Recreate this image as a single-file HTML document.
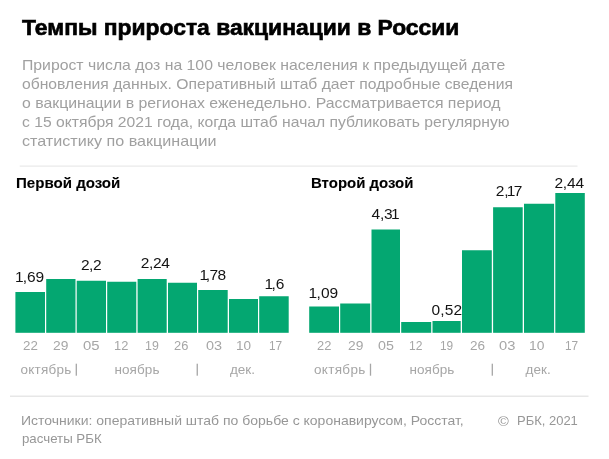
<!DOCTYPE html>
<html><head><meta charset="utf-8"><title>Темпы прироста вакцинации в России</title><style>
html,body{margin:0;padding:0;background:#fff;overflow:hidden;}
body{width:609px;height:459px;position:relative;overflow:hidden;font-family:"Liberation Sans",sans-serif;}
.x{position:absolute;white-space:nowrap;line-height:1;transform-origin:0 0;}
</style></head><body>
<svg width="609" height="459" viewBox="0 0 609 459" style="position:absolute;left:0;top:0">
<rect x="19.7" y="165.5" width="557.8" height="1.2" fill="#e9e9e9"/>
<rect x="10" y="395.6" width="578.5" height="1.2" fill="#e2e2e2"/>
<g fill="#04a771">
<rect x="15.40" y="292.00" width="29.60" height="40.80"/>
<rect x="46.20" y="279.00" width="29.30" height="53.80"/>
<rect x="76.70" y="280.75" width="29.30" height="52.05"/>
<rect x="107.20" y="281.75" width="29.10" height="51.05"/>
<rect x="137.60" y="279.00" width="29.10" height="53.80"/>
<rect x="168.00" y="282.75" width="29.00" height="50.05"/>
<rect x="198.20" y="290.00" width="29.50" height="42.80"/>
<rect x="229.00" y="299.00" width="29.00" height="33.80"/>
<rect x="259.20" y="296.25" width="29.50" height="36.55"/>
<rect x="309.20" y="306.50" width="29.80" height="26.30"/>
<rect x="340.20" y="303.50" width="30.00" height="29.30"/>
<rect x="371.50" y="229.50" width="28.50" height="103.30"/>
<rect x="401.20" y="322.00" width="30.00" height="10.80"/>
<rect x="432.50" y="321.00" width="28.20" height="11.80"/>
<rect x="462.00" y="250.25" width="29.80" height="82.55"/>
<rect x="493.10" y="207.25" width="29.60" height="125.55"/>
<rect x="524.00" y="203.75" width="30.10" height="129.05"/>
<rect x="555.30" y="193.00" width="29.50" height="139.80"/>
</g><g fill="#a6a6a6">
<rect x="75.65" y="363.70" width="1.30" height="12.00"/>
<rect x="196.60" y="363.70" width="1.30" height="12.00"/>
<rect x="369.85" y="363.70" width="1.30" height="12.00"/>
<rect x="491.65" y="363.70" width="1.30" height="12.00"/>
</g></svg>
<div style="position:absolute;left:0;top:0;width:609px;height:459px;will-change:transform">
<div class="x" style="left:21.60px;top:18.05px;font-size:21.30px;font-weight:700;color:#000;transform:scaleX(1.0729);-webkit-text-stroke:0.60px #000;">Темпы прироста вакцинации в России</div>
<div class="x" style="left:21.95px;top:57.40px;font-size:15.00px;font-weight:400;color:#a0a0a0;transform:scaleX(1.0520);">Прирост числа доз на 100 человек населения к предыдущей дате</div>
<div class="x" style="left:22.00px;top:76.30px;font-size:15.00px;font-weight:400;color:#a0a0a0;transform:scaleX(1.0455);">обновления данных. Оперативный штаб дает подробные сведения</div>
<div class="x" style="left:22.00px;top:95.10px;font-size:15.00px;font-weight:400;color:#a0a0a0;transform:scaleX(1.0545);">о вакцинации в регионах еженедельно. Рассматривается период</div>
<div class="x" style="left:22.00px;top:114.20px;font-size:15.00px;font-weight:400;color:#a0a0a0;transform:scaleX(1.0457);">с 15 октября 2021 года, когда штаб начал публиковать регулярную</div>
<div class="x" style="left:22.00px;top:133.40px;font-size:15.00px;font-weight:400;color:#a0a0a0;transform:scaleX(1.0747);">статистику по вакцинации</div>
<div class="x" style="left:15.80px;top:175.75px;font-size:14.50px;font-weight:700;color:#000;transform:scaleX(1.0398);-webkit-text-stroke:0.10px #000;">Первой дозой</div>
<div class="x" style="left:310.80px;top:175.75px;font-size:14.50px;font-weight:700;color:#000;transform:scaleX(1.0318);-webkit-text-stroke:0.10px #000;">Второй дозой</div>
<div class="x" style="left:15.75px;top:268.90px;font-size:15.50px;font-weight:400;color:#141414;letter-spacing:0.000px;"><span style="margin:0 -0.847px">1</span>,69</div>
<div class="x" style="left:80.90px;top:257.15px;font-size:15.50px;font-weight:400;color:#141414;letter-spacing:-0.413px;">2,2</div>
<div class="x" style="left:140.70px;top:255.35px;font-size:15.50px;font-weight:400;color:#141414;letter-spacing:-0.349px;">2,24</div>
<div class="x" style="left:200.95px;top:266.65px;font-size:15.50px;font-weight:400;color:#141414;letter-spacing:-0.632px;"><span style="margin:0 -1.550px">1</span>,78</div>
<div class="x" style="left:265.95px;top:276.15px;font-size:15.50px;font-weight:400;color:#141414;letter-spacing:-0.038px;"><span style="margin:0 -1.550px">1</span>,6</div>
<div class="x" style="left:308.85px;top:285.40px;font-size:15.50px;font-weight:400;color:#141414;letter-spacing:0.000px;"><span style="margin:0 -0.447px">1</span>,09</div>
<div class="x" style="left:371.40px;top:206.40px;font-size:15.50px;font-weight:400;color:#141414;letter-spacing:-0.132px;">4,3<span style="margin:0 -1.550px">1</span></div>
<div class="x" style="left:431.50px;top:301.65px;font-size:15.50px;font-weight:400;color:#141414;letter-spacing:0.151px;">0,52</div>
<div class="x" style="left:495.70px;top:183.05px;font-size:15.50px;font-weight:400;color:#141414;letter-spacing:-0.182px;">2,<span style="margin:0 -1.550px">1</span>7</div>
<div class="x" style="left:554.40px;top:175.15px;font-size:15.50px;font-weight:400;color:#141414;letter-spacing:-0.149px;">2,44</div>
<div class="x" style="left:23.00px;top:339.10px;font-size:13.20px;font-weight:400;color:#a6a6a6;transform:scaleX(1.0116);">22</div>
<div class="x" style="left:53.00px;top:339.10px;font-size:13.20px;font-weight:400;color:#a6a6a6;transform:scaleX(1.0464);">29</div>
<div class="x" style="left:83.00px;top:339.10px;font-size:13.20px;font-weight:400;color:#a6a6a6;transform:scaleX(1.1302);">05</div>
<div class="x" style="left:114.03px;top:339.10px;font-size:13.20px;font-weight:400;color:#a6a6a6;transform:scaleX(0.9749);">12</div>
<div class="x" style="left:144.56px;top:339.10px;font-size:13.20px;font-weight:400;color:#a6a6a6;transform:scaleX(0.9374);">19</div>
<div class="x" style="left:174.00px;top:339.10px;font-size:13.20px;font-weight:400;color:#a6a6a6;transform:scaleX(0.9767);">26</div>
<div class="x" style="left:205.50px;top:339.10px;font-size:13.20px;font-weight:400;color:#a6a6a6;transform:scaleX(1.0953);">03</div>
<div class="x" style="left:236.47px;top:339.10px;font-size:13.20px;font-weight:400;color:#a6a6a6;transform:scaleX(1.0274);">10</div>
<div class="x" style="left:268.60px;top:339.10px;font-size:13.20px;font-weight:400;color:#a6a6a6;transform:scaleX(0.8999);">17</div>
<div class="x" style="left:317.20px;top:339.10px;font-size:13.20px;font-weight:400;color:#a6a6a6;transform:scaleX(0.9767);">22</div>
<div class="x" style="left:347.70px;top:339.10px;font-size:13.20px;font-weight:400;color:#a6a6a6;transform:scaleX(1.0464);">29</div>
<div class="x" style="left:378.00px;top:339.10px;font-size:13.20px;font-weight:400;color:#a6a6a6;transform:scaleX(1.0813);">05</div>
<div class="x" style="left:409.09px;top:339.10px;font-size:13.20px;font-weight:400;color:#a6a6a6;transform:scaleX(0.9149);">12</div>
<div class="x" style="left:439.60px;top:339.10px;font-size:13.20px;font-weight:400;color:#a6a6a6;transform:scaleX(0.8999);">19</div>
<div class="x" style="left:469.50px;top:339.10px;font-size:13.20px;font-weight:400;color:#a6a6a6;transform:scaleX(1.0255);">26</div>
<div class="x" style="left:499.00px;top:339.10px;font-size:13.20px;font-weight:400;color:#a6a6a6;transform:scaleX(1.1162);">03</div>
<div class="x" style="left:529.45px;top:339.10px;font-size:13.20px;font-weight:400;color:#a6a6a6;transform:scaleX(1.0499);">10</div>
<div class="x" style="left:564.80px;top:339.10px;font-size:13.20px;font-weight:400;color:#a6a6a6;transform:scaleX(0.8999);">17</div>
<div class="x" style="left:20.50px;top:362.95px;font-size:13.50px;font-weight:400;color:#a6a6a6;letter-spacing:0.233px;">октябрь</div>
<div class="x" style="left:114.50px;top:362.95px;font-size:13.50px;font-weight:400;color:#a6a6a6;letter-spacing:0.077px;">ноябрь</div>
<div class="x" style="left:230.00px;top:362.95px;font-size:13.50px;font-weight:400;color:#a6a6a6;letter-spacing:-0.031px;">дек.</div>
<div class="x" style="left:314.00px;top:362.95px;font-size:13.50px;font-weight:400;color:#a6a6a6;letter-spacing:0.317px;">октябрь</div>
<div class="x" style="left:409.60px;top:362.95px;font-size:13.50px;font-weight:400;color:#a6a6a6;letter-spacing:0.017px;">ноябрь</div>
<div class="x" style="left:525.60px;top:362.95px;font-size:13.50px;font-weight:400;color:#a6a6a6;letter-spacing:0.036px;">дек.</div>
<div class="x" style="left:20.89px;top:414.90px;font-size:12.60px;font-weight:400;color:#979797;transform:scaleX(1.1110);">Источники: оперативный штаб по борьбе с коронавирусом, Росстат,</div>
<div class="x" style="left:21.70px;top:433.45px;font-size:12.60px;font-weight:400;color:#979797;transform:scaleX(1.0525);">расчеты РБК</div>
<div class="x" style="left:498.30px;top:415.20px;font-size:13.60px;font-weight:400;color:#979797;transform:scaleX(1.0800);">©</div>
<div class="x" style="left:516.97px;top:414.90px;font-size:12.60px;font-weight:400;color:#979797;transform:scaleX(1.0308);">РБК, 2021</div>
</div>
</body></html>
